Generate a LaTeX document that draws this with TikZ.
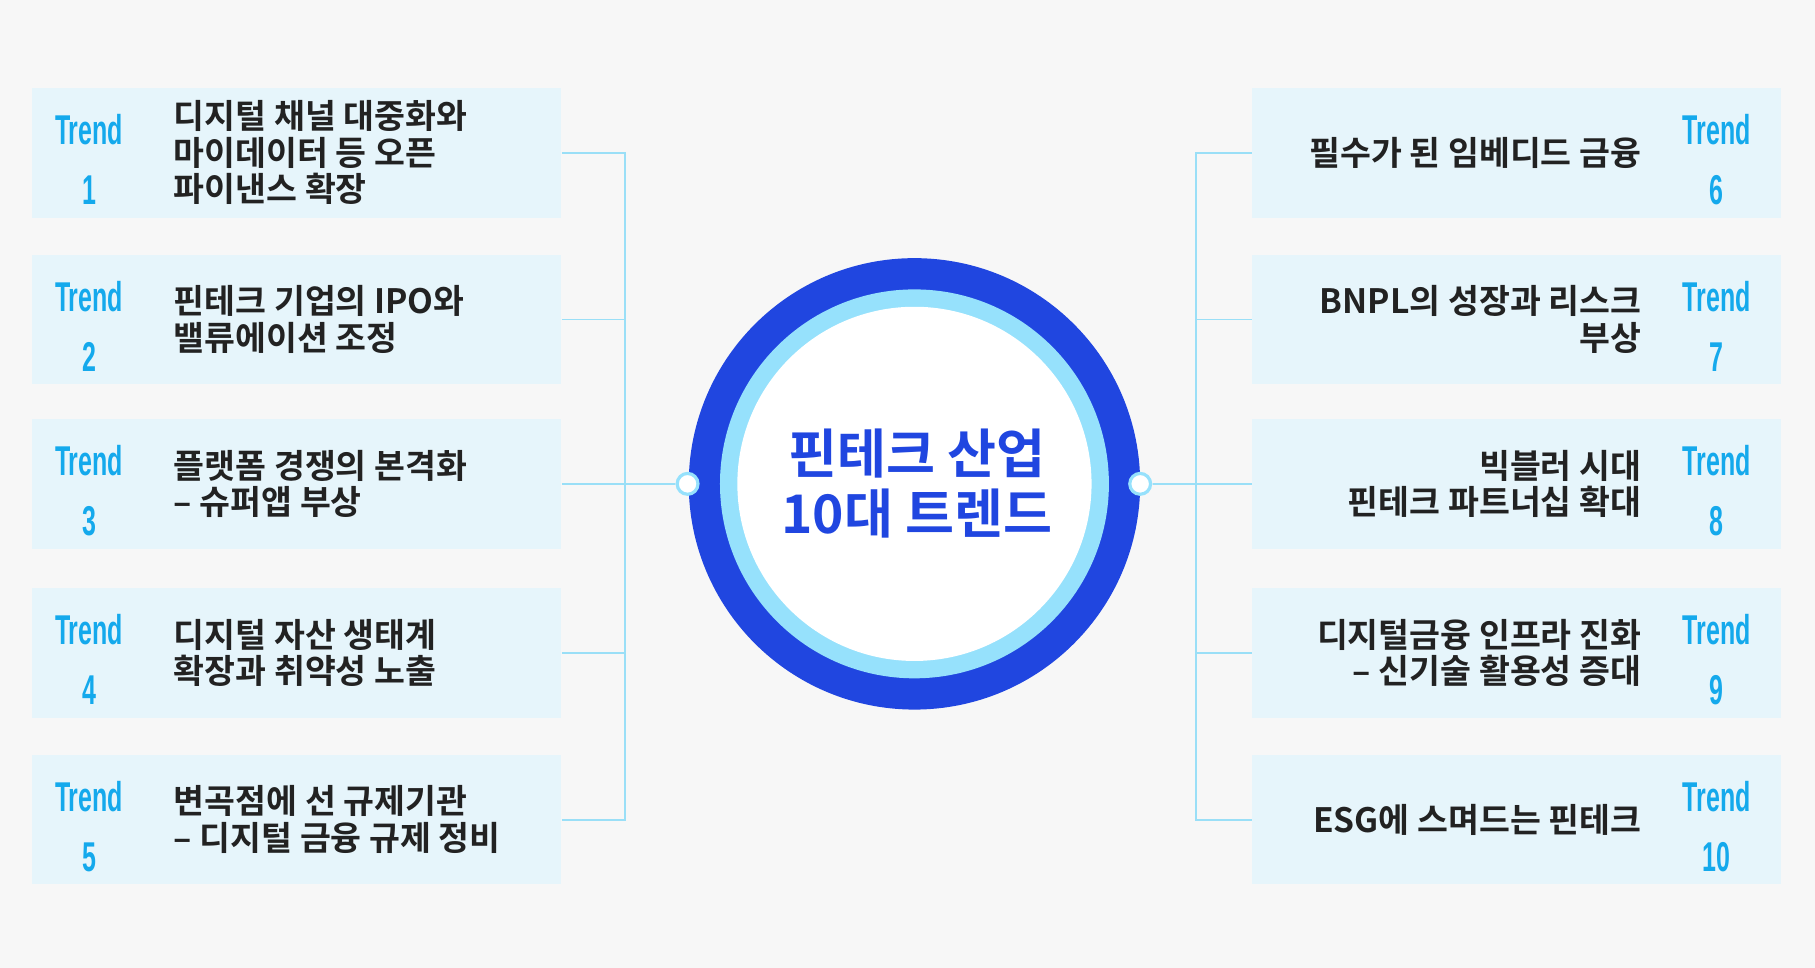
\documentclass[tikz,border=0pt]{standalone}
\usepackage{fontspec}
\setmainfont{Liberation Sans}
\newfontfamily\kofont{Noto Sans CJK KR}[BoldFont={* Bold}]
\usetikzlibrary{positioning}
\definecolor{bgray}{HTML}{F7F7F7}
\definecolor{boxfill}{HTML}{E6F5FB}
\definecolor{trendc}{HTML}{14A9EC}
\definecolor{ringc}{HTML}{2046E0}
\definecolor{linec}{HTML}{9ADFF7}
\definecolor{inring}{HTML}{96E1FC}
\definecolor{txt}{HTML}{222222}
\tikzset{
  tbox/.style={fill=boxfill,minimum width=457pt,minimum height=112pt,inner sep=0pt},
  trend/.style={text=trendc,font=\fontsize{36}{44}\selectfont\bfseries,align=center,inner sep=0pt},
  ltext/.style={text=txt,font=\kofont\fontsize{29}{31.5}\selectfont\bfseries,align=left,anchor=west,inner sep=0pt},
  rtext/.style={text=txt,font=\kofont\fontsize{29}{31.5}\selectfont\bfseries,align=right,anchor=east,inner sep=0pt},
  conn/.style={draw=linec,line width=1.8pt},
  dot/.style={circle,draw=inring,fill=white,line width=3.2pt,minimum size=18pt,inner sep=0pt}
}
\newcommand{\tr}[1]{\scalebox{0.6}[1]{Trend}\\[8pt]\scalebox{0.6}[1]{#1}}
\begin{document}
\begin{tikzpicture}[x=1pt,y=-1pt,scale=1.1575,every node/.style={transform shape}]
  \useasboundingbox[fill=bgray] (0,0) rectangle (1568,836);
  % left side
  \node[tbox] (b1) at (256.5,132) {};
  \node[tbox] (b2) at (256.5,276) {};
  \node[tbox] (b3) at (256.5,418) {};
  \node[tbox] (b4) at (256.5,564) {};
  \node[tbox] (b5) at (256.5,708) {};
  \node[trend] at (77,138) {\tr{1}};
  \node[trend] at (77,282) {\tr{2}};
  \node[trend] at (77,424) {\tr{3}};
  \node[trend] at (77,570) {\tr{4}};
  \node[trend] at (77,714) {\tr{5}};
  \node[ltext] (t1) at (150,132) {디지털 채널 대중화와\\마이데이터 등 오픈\\파이낸스 확장};
  \node[ltext] (t2) at (150,276) {핀테크 기업의 IPO와\\밸류에이션 조정};
  \node[ltext] (t3) at (150,418) {플랫폼 경쟁의 본격화\\– 슈퍼앱 부상};
  \node[ltext] (t4) at (150,564) {디지털 자산 생태계\\확장과 취약성 노출};
  \node[ltext] (t5) at (150,708) {변곡점에 선 규제기관\\– 디지털 금융 규제 정비};
  % right side
  \node[tbox] (b6) at (1310,132) {};
  \node[tbox] (b7) at (1310,276) {};
  \node[tbox] (b8) at (1310,418) {};
  \node[tbox] (b9) at (1310,564) {};
  \node[tbox] (b10) at (1310,708) {};
  \node[trend] at (1483,138) {\tr{6}};
  \node[trend] at (1483,282) {\tr{7}};
  \node[trend] at (1483,424) {\tr{8}};
  \node[trend] at (1483,570) {\tr{9}};
  \node[trend] at (1483,714) {\tr{10}};
  \node[rtext] (t6) at (1418,132) {필수가 된 임베디드 금융};
  \node[rtext] (t7) at (1418,276) {BNPL의 성장과 리스크\\부상};
  \node[rtext] (t8) at (1418,418) {빅블러 시대\\핀테크 파트너십 확대};
  \node[rtext] (t9) at (1418,564) {디지털금융 인프라 진화\\– 신기술 활용성 증대};
  \node[rtext] (t10) at (1418,708) {ESG에 스며드는 핀테크};
  % center
  \fill[ringc] (790,418) circle (195);
  \fill[inring] (790,418) circle (168);
  \fill[white] (790,418) circle (153);
  \node[text=ringc,font=\kofont\fontsize{46}{52}\selectfont\bfseries,align=center] (c) at (792,418) {핀테크 산업\\10대 트렌드};
  \coordinate (jl) at (540,418);
  \coordinate (jr) at (1033,418);
  \draw[conn] (b1.east) -| (jl);
  \draw[conn] (b5.east) -| (jl);
  \draw[conn] (b2.east) -- (b2.east -| jl);
  \draw[conn] (b3.east) -- (jl);
  \draw[conn] (b4.east) -- (b4.east -| jl);
  \draw[conn] (b6.west) -| (jr);
  \draw[conn] (b10.west) -| (jr);
  \draw[conn] (b7.west) -- (b7.west -| jr);
  \draw[conn] (b8.west) -- (jr);
  \draw[conn] (b9.west) -- (b9.west -| jr);
  \node[dot] (dl) at (594,418) {};
  \node[dot] (dr) at (985,418) {};
  \draw[conn] (jl) -- (dl);
  \draw[conn] (jr) -- (dr);
\end{tikzpicture}
\end{document}
